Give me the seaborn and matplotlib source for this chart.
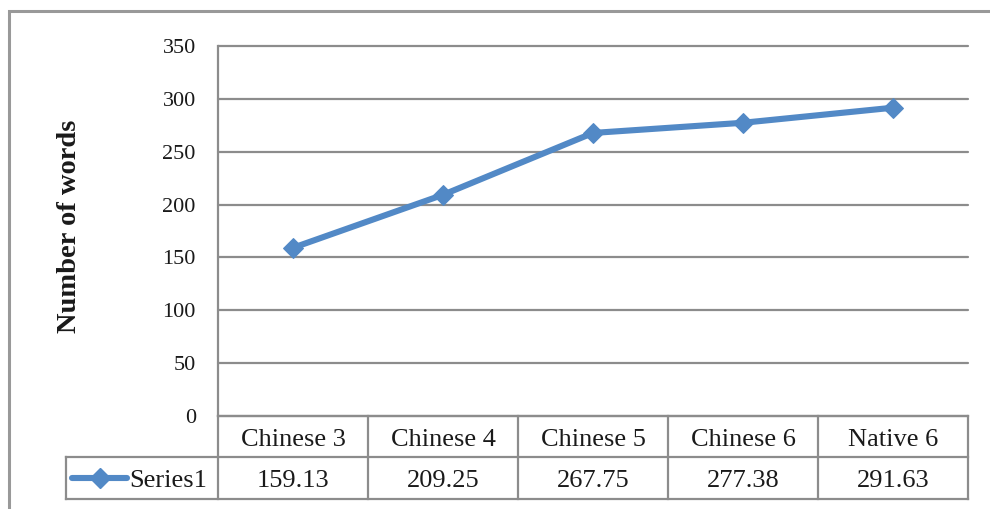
import matplotlib
matplotlib.use("Agg")
import matplotlib.pyplot as plt
import matplotlib.patches as mpatches
import seaborn as sns
import pandas as pd

categories = ["Chinese 3", "Chinese 4", "Chinese 5", "Chinese 6", "Native 6"]
values = [159.13, 209.25, 267.75, 277.38, 291.63]
value_labels = ["159.13", "209.25", "267.75", "277.38", "291.63"]
series_name = "Series1"
y_ticks = [0, 50, 100, 150, 200, 250, 300, 350]
y_label = "Number of words"

sns.set_theme(style="white")
plt.rcParams["font.family"] = ["Liberation Serif", "DejaVu Serif"]

LINE = "#5289C6"
GRID = "#8C8C8C"
TEXT = "#1a1a1a"

df = pd.DataFrame({"x": range(len(categories)), "y": values})

fig = plt.figure(figsize=(9.9, 5.09), dpi=100)
ax = fig.add_axes([218 / 990, 1 - 416 / 509, 750 / 990, 370 / 509])

sns.lineplot(data=df, x="x", y="y", ax=ax, color=LINE, lw=4.4,
             marker="D", markersize=10, markeredgecolor=LINE,
             markerfacecolor=LINE, legend=False)

ax.set_xlim(-0.5, len(categories) - 0.5)
ax.set_ylim(0, 350)
ax.set_yticks(y_ticks)
ax.set_yticklabels([str(t) for t in y_ticks], fontsize=16, color=TEXT)
ax.set_xticks([])
ax.set_xlabel("")
ax.set_ylabel("")
ax.tick_params(axis="y", length=0, pad=16)
ax.yaxis.grid(True, color=GRID, lw=1.6)
for gl in ax.get_ygridlines():
    gl.set_clip_on(False)
ax.set_axisbelow(True)
for s in ["top", "right", "bottom"]:
    ax.spines[s].set_visible(False)
ax.spines["left"].set_color(GRID)
ax.spines["left"].set_linewidth(1.6)

fig.text(70 / 990, 1 - 226 / 509, y_label, rotation=90, ha="center",
         va="center", fontsize=20.5, fontweight="bold", color=TEXT)

# data table beneath the axis
tr = ax.get_xaxis_transform()
r1 = -41 / 370
r2 = -83 / 370
xl = -0.5 + (66 - 218) / 150
n = len(categories)
kw = dict(color=GRID, lw=1.6, transform=tr, clip_on=False, solid_capstyle="projecting")
ax.plot([-0.5, n - 0.5], [0, 0], **kw)
ax.plot([xl, n - 0.5], [r1, r1], **kw)
ax.plot([xl, n - 0.5], [r2, r2], **kw)
ax.plot([xl, xl], [r1, r2], **kw)
for i in range(n + 1):
    ax.plot([i - 0.5, i - 0.5], [0, r2], **kw)
dy = -3 / 370
for i, (c, v) in enumerate(zip(categories, value_labels)):
    ax.text(i, r1 / 2 + dy, c, transform=tr, ha="center", va="center",
            fontsize=19, color=TEXT, clip_on=False)
    ax.text(i, (r1 + r2) / 2 + dy, v, transform=tr, ha="center", va="center",
            fontsize=19, color=TEXT, clip_on=False)

# legend key in the table
x0 = -0.5 + (72 - 218) / 150
x1 = -0.5 + (127 - 218) / 150
ym = (r1 + r2) / 2
ax.plot([x0, x1], [ym, ym], color=LINE, lw=4.4, transform=tr, clip_on=False)
ax.plot([-0.5 + (100 - 218) / 150], [ym], marker="D", markersize=10, color=LINE,
        transform=tr, clip_on=False)
ax.text(-0.5 + (129 - 218) / 150, ym + dy, series_name, transform=tr, ha="left",
        va="center", fontsize=19, color=TEXT, clip_on=False)

# outer chart border
fig.patches.append(mpatches.Rectangle((8.5 / 990, -0.2), 1.2, 1.2 - 11 / 509,
                                      transform=fig.transFigure, fill=False,
                                      ec="#999999", lw=2.2))

fig.savefig("out.png", dpi=100, facecolor="white")
